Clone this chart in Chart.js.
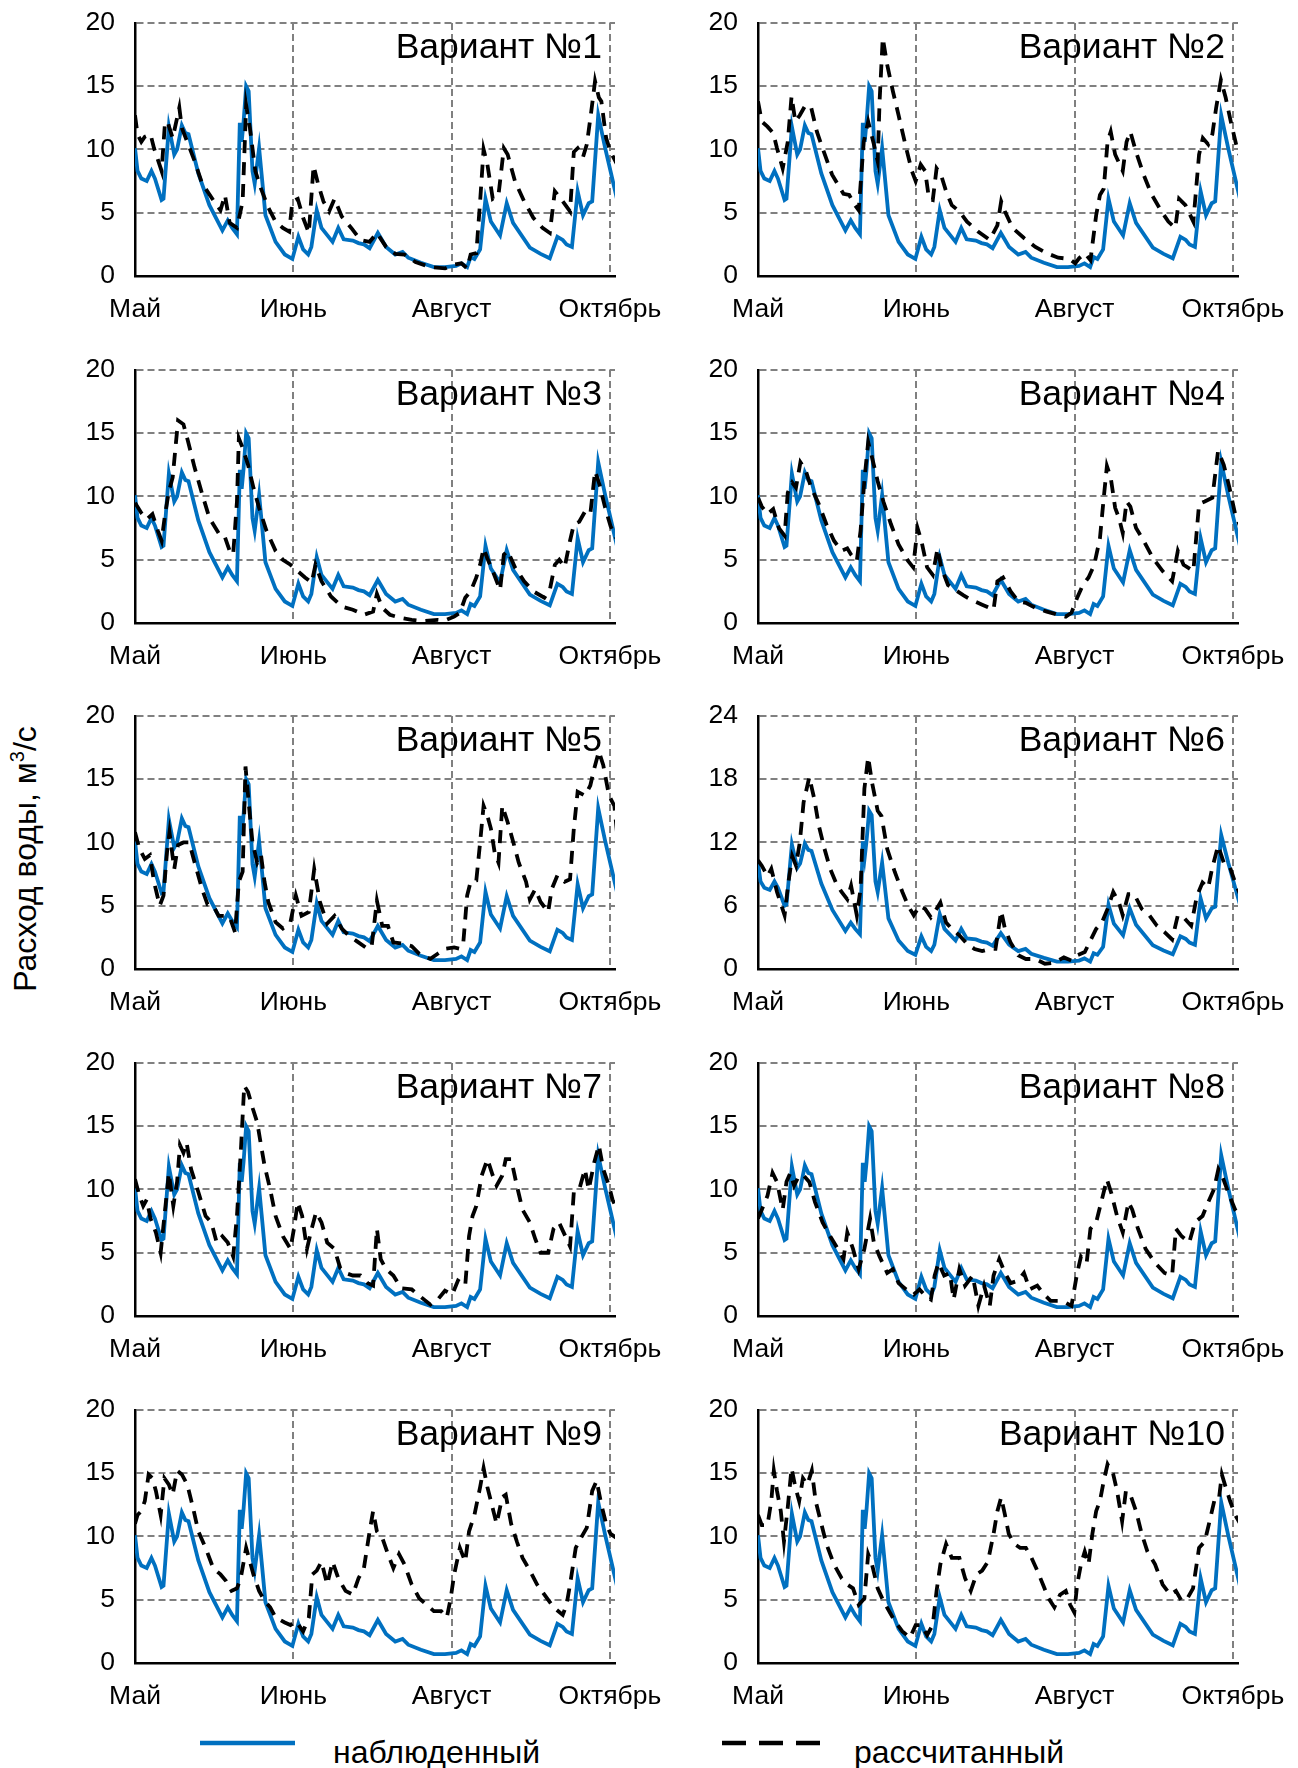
<!DOCTYPE html>
<html>
<head>
<meta charset="utf-8">
<script src="https://cdn.jsdelivr.net/npm/chart.js@4.4.0/dist/chart.umd.min.js"></script>
<style>
  body { margin: 0; background: #fff; width: 1298px; height: 1768px; position: relative; overflow: hidden;
         font-family: "Liberation Sans", Arial, sans-serif; color: #000; }
  canvas { position: absolute; }
  #ytitle { position: absolute; left: 25px; top: 859px; transform: translate(-50%, -50%) rotate(-90deg);
            font-size: 32px; white-space: nowrap; }
  #ytitle sup { font-size: 20px; }
  .leg { position: absolute; font-size: 32px; white-space: nowrap; line-height: 1; }
  .key { position: absolute; }
</style>
</head>
<body>
<div id="ytitle">Расход воды, м<sup>3</sup>/с</div>
<svg class="key" style="left:200px;top:1735px" width="100" height="16"><line x1="0" y1="8" x2="95" y2="8" stroke="#0070C0" stroke-width="4.5"/></svg>
<div class="leg" style="left:333px;top:1736px">наблюденный</div>
<svg class="key" style="left:722px;top:1735px" width="100" height="16"><line x1="0" y1="8" x2="98" y2="8" stroke="#000" stroke-width="4.5" stroke-dasharray="24 13"/></svg>
<div class="leg" style="left:854px;top:1736px">рассчитанный</div>
<script>
// axis labels
var monthTicks = [0, 50, 100, 150];
var monthLabels = ['Май', 'Июнь', 'Август', 'Октябрь'];
var yMax = [20, 20, 20, 20, 20, 24, 20, 20, 20, 20];
var yStep = [5, 5, 5, 5, 5, 6, 5, 5, 5, 5];
var panelTitles = ['Вариант №1', 'Вариант №2', 'Вариант №3', 'Вариант №4', 'Вариант №5',
                   'Вариант №6', 'Вариант №7', 'Вариант №8', 'Вариант №9', 'Вариант №10'];

// [day, m3/s] observed discharge (same in every panel)
var observed = [[0,10.1],[0.8,8.3],[2,7.7],[3.7,7.5],[5.2,8.3],[6.3,7.7],[8.4,6.0],[9,6.1],[10.7,11.8],[12.4,9.6],
  [13.3,10],[14.8,11.9],[15.9,11.3],[16.9,11.2],[20,8.1],[23.5,5.6],[27.6,3.6],[29.3,4.4],[30.7,3.8],[32.2,3.3],
  [33.1,12.1],[33.7,10.6],[34.3,12.2],[35.1,15.0],[35.9,14.6],[37.1,8.3],[37.8,7.3],[39.2,10.1],[40,8.0],[41.2,4.8],
  [44.4,2.7],[47.3,1.7],[49.7,1.35],[51.6,3.1],[53.1,2.1],[54.7,1.7],[55.7,2.3],[57.4,5.2],[58.9,3.8],[62.4,2.7],
  [64.2,3.8],[65.9,2.9],[68.8,2.8],[70.6,2.6],[72.3,2.5],[74.1,2.2],[76.7,3.4],[79.3,2.3],[82.2,1.7],[84.5,1.9],
  [86.3,1.45],[90.3,1.05],[94.4,0.7],[97.9,0.7],[101.4,0.8],[103.1,1.0],[104.9,0.7],[106,1.5],[107.2,1.35],[109,2.1],
  [110.7,6.1],[112.4,4.3],[115.3,3.2],[117.4,5.75],[119.4,4.2],[124.7,2.25],[128.1,1.75],[131,1.4],[133.4,3.1],[135.1,2.85],
  [136.3,2.5],[138,2.3],[139.8,6.7],[141.5,4.8],[143.3,5.75],[144.4,5.9],[146.3,12.7],[148.5,10.1],[152.3,6.0]];

// calculated discharge, one array per variant
var calc1 = [[0,12.7],[0.8,11.2],[2,10.6],[3.1,11.0],[4.9,11.2],[6,10.1],[8.4,8.3],[9.5,12.2],[10.5,12.0],[11.9,10.9],
  [14,13.3],[14.8,11.7],[16.5,10.6],[18.8,9.1],[21.2,7.3],[24.7,6.0],[27,5.2],[28.4,6.4],[29.9,4.2],[32.2,3.8],
  [34,5.9],[35.1,13.5],[36.3,11.7],[38,8.3],[39.8,6.9],[42.1,5.4],[44.4,4.3],[46.7,3.8],[48.7,3.5],[49.7,5.9],
  [51.4,6.1],[53.1,4.6],[54.9,3.4],[56.4,8.7],[57.8,7.3],[59.5,5.9],[61.3,5.1],[63,6.1],[65.3,4.7],[68.3,3.8],
  [71.2,2.85],[74.1,2.7],[76.4,3.4],[79.3,2.3],[82.2,1.75],[85.1,1.7],[88.6,1.1],[93.3,0.7],[97.9,0.6],[100.8,0.9],
  [103.1,1.0],[104.9,0.6],[106,1.7],[107.8,1.8],[109,5.9],[110.1,10.0],[111.3,8.8],[113,6.1],[114.8,6.4],[116.5,10.1],
  [117.7,9.6],[120,7.5],[122.9,5.9],[125.8,4.6],[128.7,3.8],[131,3.4],[132.6,6.7],[134.5,6.1],[137.4,5.1],[138.6,9.8],
  [139.8,10.1],[141.5,9.4],[142.7,10.4],[144.1,13.0],[145.3,15.4],[146.5,14.1],[147.3,13.8],[148.8,10.9],[150.2,9.8],[152.3,8.8]];
var calc2 = [[0,13.8],[1.2,12.2],[3,11.8],[4.8,11.3],[6,10.1],[7.8,8.5],[9.4,10.6],[10.6,14.2],[11.8,12.2],[13.2,12.7],
  [15,13.5],[16.8,13.3],[18.6,11.4],[20.4,10.1],[23.4,8.0],[27,6.5],[28.8,6.4],[30.6,5.6],[31.8,5.2],[33.4,10.6],
  [34.8,12.2],[36.6,10.4],[37.8,9.05],[38.4,13.8],[39.4,18.8],[40.8,16.7],[42.6,14.6],[44.4,12.7],[46.8,10.1],[48.6,8.3],
  [49.8,7.5],[51.4,8.8],[52.8,8.3],[54,6.1],[55.2,6.0],[56.4,8.5],[57.8,8.0],[59.4,6.7],[61.2,5.6],[63.6,5.1],
  [66,4.3],[69.6,3.5],[73.2,2.85],[75.6,4.0],[76.8,5.9],[78,5.1],[80.4,3.8],[84,3.0],[87.6,2.3],[91.2,1.8],
  [94.8,1.45],[98.4,1.35],[100.2,1.0],[101.4,1.4],[103.2,1.8],[105,1.25],[106.8,4.8],[108,6.4],[109.2,6.9],[110.4,10.6],
  [111.4,11.4],[112.8,9.6],[115.2,8.3],[116.4,10.6],[117.6,11.4],[119.4,9.8],[121.8,8.0],[124.2,6.5],[127.2,5.2],[129.6,4.3],
  [131.8,3.8],[133,6.1],[135,5.6],[137.5,4.3],[139.3,9.6],[140.5,10.9],[142.2,10.4],[143.5,11.2],[144.7,13.3],[146.2,15.5],
  [147.7,14.1],[149.5,12.0],[151.3,10.1],[152.5,9.3]];
var calc3 = [[0,9.5],[2,8.7],[3.7,8.2],[5.5,8.6],[7.2,7.3],[8.4,6.5],[9.5,8.6],[10.7,10.4],[11.9,11.5],[12.8,13.9],
  [13.6,16.0],[15.3,15.7],[16.7,14.4],[18.8,12.3],[21.2,10.2],[23.5,8.3],[26.4,7.1],[28.1,7.0],[29.9,5.7],[31,5.4],
  [32.2,9.6],[32.8,14.6],[33.9,13.9],[35.7,12.5],[37.4,10.7],[39.2,9.1],[41.5,7.3],[44.4,5.7],[46.7,5.0],[49.1,4.6],
  [51.4,4.1],[53.7,3.6],[55.8,3.2],[57,4.6],[58.9,3.3],[61.9,2.1],[65.3,1.3],[68.8,1.05],[72.3,0.65],[75.2,0.9],
  [76.4,2.3],[78.1,1.2],[80.5,0.65],[84,0.4],[87.4,0.25],[90.9,0.15],[95.6,0.25],[97.9,0.2],[100.8,0.5],[102.6,0.8],
  [104.3,2.0],[106,2.5],[107.8,3.6],[109,4.6],[110.1,5.9],[111.3,5.1],[113,4.1],[115.3,2.6],[116.5,5.4],[117.7,5.7],
  [120,4.4],[122.9,3.3],[125.8,2.5],[129.3,2.0],[131,2.6],[132.6,4.6],[134,5.0],[135.7,4.4],[137.4,6.5],[138.6,7.8],
  [140.3,8.0],[142.1,8.8],[143.8,8.6],[145.3,12.0],[146.7,10.95],[148.5,9.1],[150.2,7.65],[152,6.7]];
var calc4 = [[0,9.9],[1.2,9.2],[3,8.6],[4.8,9.0],[6.6,7.5],[8.4,6.9],[9.4,10.3],[10.8,11.1],[12,10.7],[13.4,12.7],
  [15,12.1],[16.8,10.7],[19.2,9.4],[21.6,7.8],[24,6.5],[26.4,5.7],[28.2,5.9],[29.4,5.4],[31.2,4.9],[32.4,7.3],
  [33.6,11.3],[34.8,14.3],[36,13.1],[37.8,11.2],[39.6,9.6],[42,7.8],[44.4,6.2],[47.4,4.9],[49,4.4],[50.4,7.5],
  [51.6,6.5],[53.4,4.4],[55.2,3.8],[56.7,5.9],[57.9,4.4],[60,3.0],[62.4,2.6],[64.8,2.2],[67.2,1.85],[70.8,1.45],
  [74.4,1.05],[75.6,3.3],[77.4,3.6],[79.8,2.5],[82.2,1.7],[84.6,1.6],[87.6,1.2],[91.2,0.9],[94.8,0.65],[97.2,0.5],
  [99,0.8],[100.8,2.0],[102.6,3.0],[104.4,3.6],[106.2,4.6],[108,6.7],[109.2,9.9],[110.2,12.4],[111.4,11.5],[112.8,9.1],
  [114,8.3],[115.2,7.1],[116.4,9.6],[117.6,9.2],[119.4,7.5],[121.8,6.5],[124.8,5.1],[127.8,4.1],[130.8,3.3],[132.6,5.7],
  [134.4,4.6],[137.5,4.1],[139.3,9.4],[141.1,9.6],[143.5,9.9],[145.3,13.6],[147.1,12.5],[148.9,10.7],[150.7,8.6],[152.5,7.5]];
var calc5 = [[0,10.8],[1.4,9.5],[3.1,8.7],[4.7,9.0],[6,6.9],[7.8,5.0],[9,5.8],[10.1,9.2],[10.9,10.8],[12.4,7.9],
  [13.6,9.8],[15.3,10.0],[17.1,10.0],[19.4,7.9],[21.2,6.3],[22.9,5.1],[24.7,5.0],[26.4,4.2],[28.1,4.2],[29.9,4.1],
  [31.6,2.9],[32.8,6.9],[34,7.7],[34.9,16.0],[36,12.9],[37.1,10.0],[38.6,8.4],[39.8,9.0],[40.9,6.9],[42.1,5.3],
  [44.4,3.7],[46.7,3.2],[49.1,3.7],[50.8,5.8],[52.6,4.2],[54.9,4.5],[56.6,7.9],[58.4,5.3],[60.7,3.6],[63,4.2],
  [65.3,3.2],[67.7,2.6],[70,2.2],[72.9,1.7],[74.7,1.7],[76.4,5.4],[78.1,3.4],[79.9,3.4],[81.6,2.1],[84.5,2.0],
  [87.4,1.8],[89.8,1.2],[93.3,0.8],[95.6,1.2],[97.9,1.6],[100.8,1.7],[102.6,1.6],[103.7,2.1],[104.9,5.8],[106,6.9],
  [107.8,7.0],[109,10.0],[110.1,12.9],[111.3,12.1],[112.4,11.1],[113.6,9.2],[114.8,8.4],[116,12.9],[117.7,11.6],[119.5,10.0],
  [121.2,8.4],[123.5,6.9],[124.7,5.5],[126.4,6.3],[128.1,5.3],[130.5,4.5],[131.6,6.3],[133.4,7.4],[135.7,6.9],[137.4,7.1],
  [138.6,11.1],[139.8,14.0],[142.1,13.7],[143.8,14.5],[145,15.8],[146.5,17.2],[147.9,16.1],[149.7,13.7],[151.4,12.9],[152.3,10.6]];
var calc6 = [[0,10.3],[1.2,9.8],[3,8.8],[4.2,9.5],[6,7.3],[8.4,5.1],[9.6,8.2],[10.8,10.7],[12,9.8],[13.2,12.0],
  [14.4,15.8],[16.2,18.2],[17.8,16.1],[19.2,13.6],[21,11.4],[22.8,9.5],[24.6,8.2],[26.4,7.3],[28.2,6.6],[29.4,7.9],
  [31.2,5.1],[32.4,7.6],[33.6,17.1],[34.8,20.1],[36,17.7],[37.8,15.0],[39,14.5],[40.8,11.4],[43.2,9.2],[45.6,7.3],
  [47.4,6.0],[49.2,5.1],[51,6.0],[52.8,5.7],[54.6,4.9],[56.4,5.7],[57.6,6.3],[59.4,4.4],[61.2,3.8],[63.6,3.2],
  [66,2.4],[68.4,1.9],[70.8,1.7],[73.2,1.9],[75,1.9],[76.8,5.5],[78,3.8],[79.8,2.5],[82.2,1.3],[84.6,0.95],
  [87.6,0.95],[90.6,0.5],[93.6,0.6],[96.6,1.1],[99,0.8],[100.8,1.3],[103.2,1.6],[105,2.7],[106.8,3.8],[108.6,4.4],
  [110.4,5.7],[112.2,7.3],[114,6.3],[115.2,5.1],[117,7.1],[118.8,7.1],[121.2,5.7],[123.6,5.1],[126,4.1],[128.4,3.5],
  [130.8,2.8],[132.6,5.1],[134.4,4.9],[136.8,4.1],[138.6,6.9],[140.4,8.2],[142.2,7.7],[143.4,9.5],[145.3,11.7],[147.1,10.1],
  [148.9,9.8],[150.7,8.2],[152.5,6.9]];
var calc7 = [[0,10.8],[1.4,9.5],[2.6,8.7],[3.7,9.2],[4.9,7.7],[6.6,6.6],[8.1,5.0],[9.3,7.9],[10.7,11.3],[12.1,8.7],
  [13.3,10.6],[14.2,13.5],[15.3,12.9],[16.3,13.7],[17.7,11.6],[20,9.8],[22.3,7.9],[24.1,7.4],[25.8,5.8],[27.6,6.3],
  [29.3,5.8],[31,4.7],[32.2,7.9],[33.4,12.9],[34.5,18.2],[35.7,17.7],[37.2,16.4],[38.6,15.3],[39.8,13.5],[40.9,11.9],
  [42.7,10.0],[44.4,7.9],[46.7,6.3],[49.1,5.3],[50.2,6.9],[51.4,9.0],[52.8,7.9],[54.3,5.3],[55.8,6.9],[57.2,8.2],
  [58.9,7.4],[60.7,5.8],[63,5.3],[64.8,3.8],[66.5,3.4],[68.8,3.2],[71.2,3.2],[73.5,2.6],[75.2,2.4],[76.4,6.9],
  [77.6,4.5],[79.3,3.7],[81.6,3.2],[84,2.2],[87.4,2.1],[89.8,1.6],[93.3,0.9],[95.6,1.3],[97.9,2.0],[100.2,1.7],
  [102,2.8],[104.3,2.4],[105.5,6.3],[106.6,7.9],[107.8,8.7],[109.5,11.1],[111.3,12.4],[113,11.1],[114.2,10.3],[116,11.1],
  [117.1,12.4],[118.8,12.4],[120.6,10.3],[122.4,8.4],[124.7,7.4],[126.4,6.1],[128.1,5.0],[130.5,5.0],[132.2,6.9],[133.9,7.4],
  [136.3,6.1],[137.4,5.5],[138.6,9.8],[140.3,10.0],[142.1,11.6],[143.3,10.0],[145,12.1],[146.5,13.5],[147.9,11.6],[149.7,10.3],
  [150.8,9.2],[152.3,8.4]];
var calc8 = [[0,7.7],[1.2,8.4],[3,9.5],[4.6,11.3],[6,10.6],[7.8,8.4],[9,10.6],[10.2,11.3],[11.4,10.3],[13,11.1],
  [14.4,11.1],[16.2,10.6],[18,9.0],[20.4,7.4],[22.8,6.3],[25.2,5.3],[27,4.5],[28.2,6.6],[30,5.3],[31.8,3.7],
  [33.6,5.3],[35.4,7.7],[36.6,5.8],[38.4,4.7],[40.8,3.4],[42.6,3.7],[44.4,2.6],[46.8,2.1],[49.2,1.7],[51,2.1],
  [52.8,1.6],[54.6,1.3],[55.8,3.2],[57,4.2],[58.8,3.2],[60.6,3.4],[61.8,1.3],[63.6,3.7],[65.4,2.4],[67.8,3.2],
  [69.6,0.8],[71.4,2.4],[73.2,0.8],[74.4,3.2],[76.2,4.5],[78,3.4],[79.8,2.6],[82.2,2.8],[84,3.4],[85.8,2.1],
  [88.2,2.4],[90,1.8],[92.4,1.2],[94.8,1.2],[97.2,1.05],[99,0.8],[100.8,3.4],[102,4.7],[103.8,4.2],[105,6.9],
  [106.8,7.4],[108.6,9.2],[110.2,10.8],[111.6,9.7],[113.4,7.9],[115.2,6.6],[117,9.0],[118.2,8.4],[120,6.9],[122.4,5.3],
  [125.4,4.2],[128.4,3.4],[130.8,3.2],[132,6.9],[133.8,6.3],[136.2,5.8],[138,7.4],[140.4,7.9],[142.2,9.0],[144,10.0],
  [145.4,11.6],[147,10.8],[148.9,9.5],[150.7,8.4],[152.5,7.8]];
var calc9 = [[0,11.0],[0.8,11.7],[2,12.0],[3.1,12.8],[4.3,14.9],[5.5,14.6],[6.6,13.6],[8.1,11.7],[9.3,14.6],[10.7,14.1],
  [11.9,13.3],[13.3,15.2],[14.8,14.9],[16.5,14.1],[18.3,12.3],[20,10.4],[22.3,9.1],[24.7,7.5],[27,7.0],[28.7,6.5],
  [30.5,5.7],[32.2,5.9],[33.4,6.7],[35.1,9.1],[36.3,8.0],[37.4,7.0],[39.2,5.7],[40.9,4.9],[42.7,4.4],[44.4,3.6],
  [47.3,3.2],[49.1,3.0],[50.8,3.3],[53.1,2.5],[54.9,3.6],[56,7.0],[57.4,7.3],[58.9,8.0],[60.7,6.2],[62.4,8.0],
  [64.2,6.7],[66.5,5.7],[68.8,5.4],[70.6,6.7],[72.3,7.5],[74.1,10.4],[75.2,12.0],[76.4,10.4],[78.1,9.9],[79.9,8.6],
  [81.6,7.5],[83.4,8.6],[85.1,7.8],[87.4,6.2],[89.8,5.1],[92.1,4.6],[94.4,4.1],[96.7,4.1],[98.5,3.6],[99.7,5.1],
  [100.8,7.0],[102.6,9.1],[104.3,8.0],[105.5,10.4],[107.2,11.7],[109,13.9],[110.1,15.4],[111.3,13.9],[112.4,12.8],[114.2,11.0],
  [116,13.1],[117.1,13.3],[118.8,11.0],[120.6,9.6],[122.4,8.3],[124.7,7.3],[127,6.2],[129.3,5.4],[132.2,4.4],[135.1,3.8],
  [136.3,4.6],[137.4,6.2],[139.2,9.1],[140.9,9.9],[142.7,10.7],[144.4,13.6],[145.8,14.4],[147.3,12.5],[148.8,11.0],[150.2,10.2],
  [152,9.9]];
var calc10 = [[0,11.7],[1.2,10.9],[3,10.9],[4.2,12.8],[5,15.2],[6,13.6],[7.2,12.0],[8.2,9.6],[9.4,12.3],[10.6,15.4],
  [11.8,13.9],[13,12.8],[14.2,14.6],[15.6,14.1],[17,15.2],[18.2,12.8],[19.8,11.2],[21.6,9.4],[24,7.8],[26.4,6.7],
  [28.2,6.2],[30,5.9],[31.8,4.6],[33.6,5.1],[34.8,8.6],[36,7.8],[37.8,5.9],[39.6,4.9],[41.4,4.1],[43.2,3.3],
  [45.6,2.5],[48,2.0],[49.8,3.0],[51.6,3.0],[53.4,2.2],[55.2,3.0],[56.4,5.7],[57.6,7.8],[59.4,9.4],[61.2,8.3],
  [63.6,8.3],[65.4,6.7],[67.2,5.7],[69,7.0],[70.8,7.3],[72.6,8.0],[74.4,10.2],[75.6,12.0],[76.8,13.1],[78,11.7],
  [79.2,10.2],[81,9.4],[82.8,9.1],[84.6,9.1],[86.4,8.3],[88.2,7.3],[90,6.2],[91.8,5.1],[93.6,4.4],[95.4,5.4],
  [97.2,5.7],[98.6,4.6],[99.9,4.0],[100.8,6.2],[102,7.8],[103.2,8.8],[104.4,7.8],[105.6,10.2],[106.8,12.0],[108,12.8],
  [109.2,14.4],[110.4,15.7],[112.2,14.9],[113.4,13.6],[115,11.2],[116.2,13.6],[117.6,13.3],[119.4,12.0],[121.2,10.2],[123,8.8],
  [125.4,7.8],[127.8,6.2],[130.2,5.4],[132,5.7],[133.8,4.9],[135.6,5.1],[137.4,5.9],[139.3,9.1],[141.1,9.6],[142.9,11.5],
  [144.1,12.8],[145.5,12.8],[146.5,14.9],[147.7,13.9],[149.1,12.8],[150.7,11.7],[152.5,10.9]];
var calcSeries = [calc1, calc2, calc3, calc4, calc5, calc6, calc7, calc8, calc9, calc10];

// plot area placement on the page
var areaLeft = [135, 758];
var areaTop = [23, 370, 716, 1063, 1410];
var FONT = '"Liberation Sans", Arial, sans-serif';
var TICK_SIZE = 26.5;
var Y_PAD = 20;
// chart.js puts the plot top at half a label height + tick padding
var TOP_OFF = TICK_SIZE * 1.2 / 2 + Y_PAD;

function toXY(pts) {
  return pts.map(function(p) { return {x: p[0], y: p[1]}; });
}

var variantTitle = {
  id: 'variantTitle',
  afterDraw: function(chart, args, opts) {
    var ctx = chart.ctx;
    var xs = chart.scales.x;
    ctx.save();
    ctx.font = '35.5px ' + FONT;
    ctx.fillStyle = '#000';
    ctx.textAlign = 'right';
    ctx.textBaseline = 'middle';
    ctx.fillText(opts.text, xs.getPixelForValue(150) - 8, chart.chartArea.top + 25);
    ctx.restore();
  }
};

function makePanel(i) {
  var col = i % 2, row = Math.floor(i / 2);
  var canvas = document.createElement('canvas');
  canvas.width = 75 + 480 + 75;
  canvas.height = Math.round(TOP_OFF + 253 + 52);
  canvas.style.left = (areaLeft[col] - 75) + 'px';
  canvas.style.top = (areaTop[row] - TOP_OFF) + 'px';
  document.body.appendChild(canvas);

  var gridOpts = {color: '#808080', lineWidth: 2, drawTicks: false};
  var borderOpts = {color: '#000', width: 2.5, dash: [7, 4]};
  var tickFont = {size: TICK_SIZE, family: FONT};

  new Chart(canvas.getContext('2d'), {
    type: 'line',
    data: {
      datasets: [
        {label: 'рассчитанный', data: toXY(calcSeries[i]), borderColor: '#000', borderWidth: 3.8,
         borderDash: [13, 9], pointRadius: 0, tension: 0, fill: false},
        {label: 'наблюденный', data: toXY(observed), borderColor: '#0070C0', borderWidth: 3.8,
         pointRadius: 0, tension: 0, fill: false}
      ]
    },
    options: {
      responsive: false,
      animation: false,
      layout: {padding: {top: 0, right: 75, left: 0, bottom: 0}},
      plugins: {
        legend: {display: false},
        tooltip: {enabled: false},
        variantTitle: {text: panelTitles[i]}
      },
      scales: {
        x: {
          type: 'linear', min: 0, max: 151.6,
          afterBuildTicks: function(s) { s.ticks = monthTicks.map(function(v) { return {value: v}; }); },
          afterFit: function(s) { s.height = 52; },
          ticks: {
            autoSkip: false, maxRotation: 0, padding: 18, color: '#000', font: tickFont,
            callback: function(v) { var k = monthTicks.indexOf(v); return k >= 0 ? monthLabels[k] : ''; }
          },
          grid: gridOpts,
          border: borderOpts
        },
        y: {
          min: 0, max: yMax[i],
          afterFit: function(s) { s.width = 75; },
          ticks: {stepSize: yStep[i], padding: Y_PAD, color: '#000', font: tickFont},
          grid: gridOpts,
          border: borderOpts
        }
      }
    },
    plugins: [variantTitle]
  });
}

for (var i = 0; i < 10; i++) makePanel(i);
</script>
</body>
</html>
